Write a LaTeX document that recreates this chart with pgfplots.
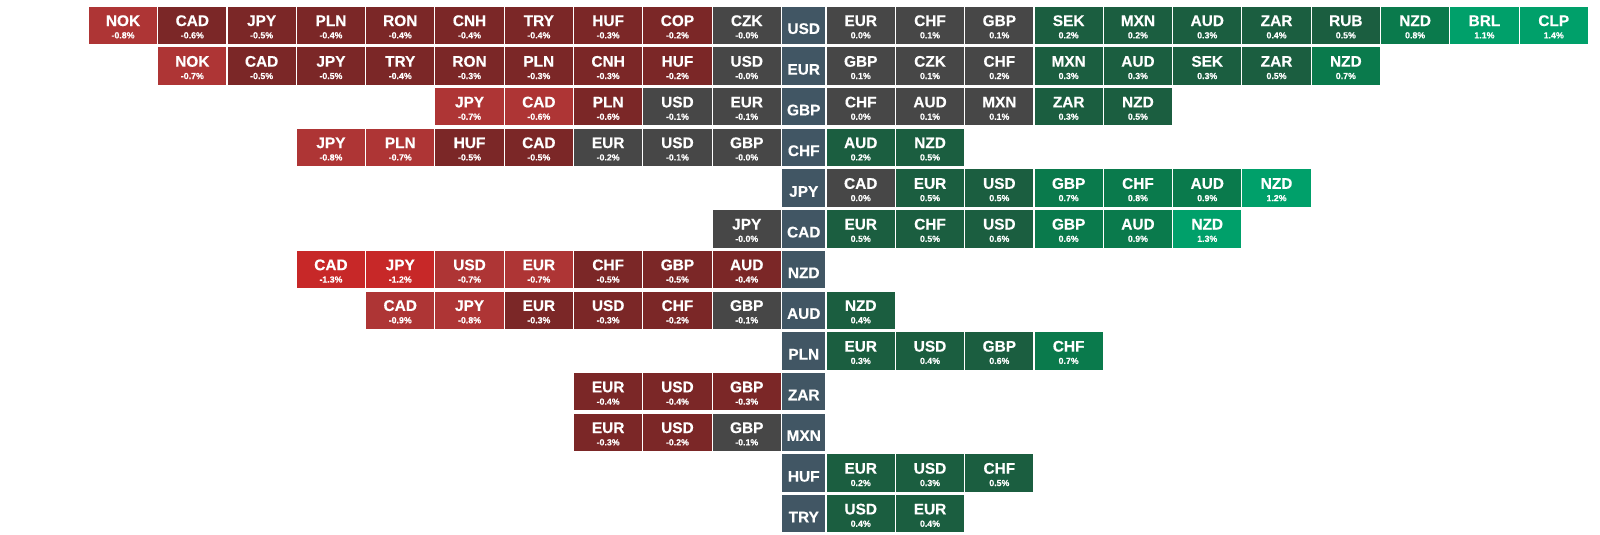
\documentclass[border=0pt]{standalone}
\usepackage{fontspec}
\setmainfont[FakeBold=0.35]{Liberation Sans}
\usepackage{pgfplots}
\usepackage{pgfplotstable}
\pgfplotsset{compat=1.18}

% heat map palette
\definecolor{redD}{HTML}{7B2727}
\definecolor{redM}{HTML}{AE3535}
\definecolor{redB}{HTML}{C72828}
\definecolor{grey}{HTML}{474747}
\definecolor{grnD}{HTML}{1B5E40}
\definecolor{grnM}{HTML}{0A7A4C}
\definecolor{grnB}{HTML}{00A06A}
\definecolor{hub}{HTML}{415664}

% cell shapes: square, rounded left end, rounded right end
\pgfdeclareplotmark{cellN}{%
  \pgfpathrectanglecorners{\pgfpoint{-17.07pt}{-9.33pt}}{\pgfpoint{17.07pt}{9.33pt}}%
  \pgfusepathqfill}
\pgfdeclareplotmark{cellL}{%
  \pgfsetcornersarced{\pgfpoint{1.6pt}{1.6pt}}%
  \pgfpathrectanglecorners{\pgfpoint{-17.07pt}{-9.33pt}}{\pgfpoint{17.07pt}{9.33pt}}%
  \pgfusepathqfill
  \pgfsetcornersarced{\pgfpointorigin}%
  \pgfpathrectanglecorners{\pgfpoint{0pt}{-9.33pt}}{\pgfpoint{17.07pt}{9.33pt}}%
  \pgfusepathqfill}
\pgfdeclareplotmark{cellR}{%
  \pgfsetcornersarced{\pgfpoint{1.6pt}{1.6pt}}%
  \pgfpathrectanglecorners{\pgfpoint{-17.07pt}{-9.33pt}}{\pgfpoint{17.07pt}{9.33pt}}%
  \pgfusepathqfill
  \pgfsetcornersarced{\pgfpointorigin}%
  \pgfpathrectanglecorners{\pgfpoint{-17.07pt}{-9.33pt}}{\pgfpoint{0pt}{9.33pt}}%
  \pgfusepathqfill}
\pgfdeclareplotmark{hubcell}{%
  \pgfpathrectanglecorners{\pgfpoint{-10.75pt}{-9.33pt}}{\pgfpoint{10.75pt}{9.33pt}}%
  \pgfusepathqfill}
\pgfdeclareplotmark{blank}{}

% row = base currency (see \hubs), col < 0 weaker, col > 0 stronger
% cls = colour + end (N none, L left end, R right end)
\pgfplotstableread{
row col name val cls
0 -10 NOK -0.8 redML
0 -9 CAD -0.6 redDN
0 -8 JPY -0.5 redDN
0 -7 PLN -0.4 redDN
0 -6 RON -0.4 redDN
0 -5 CNH -0.4 redDN
0 -4 TRY -0.4 redDN
0 -3 HUF -0.3 redDN
0 -2 COP -0.2 redDN
0 -1 CZK -0.0 greyN
0 1 EUR 0.0 greyN
0 2 CHF 0.1 greyN
0 3 GBP 0.1 greyN
0 4 SEK 0.2 grnDN
0 5 MXN 0.2 grnDN
0 6 AUD 0.3 grnDN
0 7 ZAR 0.4 grnDN
0 8 RUB 0.5 grnDN
0 9 NZD 0.8 grnMN
0 10 BRL 1.1 grnBN
0 11 CLP 1.4 grnBR
1 -9 NOK -0.7 redML
1 -8 CAD -0.5 redDN
1 -7 JPY -0.5 redDN
1 -6 TRY -0.4 redDN
1 -5 RON -0.3 redDN
1 -4 PLN -0.3 redDN
1 -3 CNH -0.3 redDN
1 -2 HUF -0.2 redDN
1 -1 USD -0.0 greyN
1 1 GBP 0.1 greyN
1 2 CZK 0.1 greyN
1 3 CHF 0.2 greyN
1 4 MXN 0.3 grnDN
1 5 AUD 0.3 grnDN
1 6 SEK 0.3 grnDN
1 7 ZAR 0.5 grnDN
1 8 NZD 0.7 grnMR
2 -5 JPY -0.7 redML
2 -4 CAD -0.6 redMN
2 -3 PLN -0.6 redDN
2 -2 USD -0.1 greyN
2 -1 EUR -0.1 greyN
2 1 CHF 0.0 greyN
2 2 AUD 0.1 greyN
2 3 MXN 0.1 greyN
2 4 ZAR 0.3 grnDN
2 5 NZD 0.5 grnDR
3 -7 JPY -0.8 redML
3 -6 PLN -0.7 redMN
3 -5 HUF -0.5 redDN
3 -4 CAD -0.5 redDN
3 -3 EUR -0.2 greyN
3 -2 USD -0.1 greyN
3 -1 GBP -0.0 greyN
3 1 AUD 0.2 grnDN
3 2 NZD 0.5 grnDR
4 1 CAD 0.0 greyN
4 2 EUR 0.5 grnDN
4 3 USD 0.5 grnDN
4 4 GBP 0.7 grnMN
4 5 CHF 0.8 grnMN
4 6 AUD 0.9 grnMN
4 7 NZD 1.2 grnBR
5 -1 JPY -0.0 greyL
5 1 EUR 0.5 grnDN
5 2 CHF 0.5 grnDN
5 3 USD 0.6 grnDN
5 4 GBP 0.6 grnMN
5 5 AUD 0.9 grnMN
5 6 NZD 1.3 grnBR
6 -7 CAD -1.3 redBL
6 -6 JPY -1.2 redBN
6 -5 USD -0.7 redMN
6 -4 EUR -0.7 redMN
6 -3 CHF -0.5 redDN
6 -2 GBP -0.5 redDN
6 -1 AUD -0.4 redDN
7 -6 CAD -0.9 redML
7 -5 JPY -0.8 redMN
7 -4 EUR -0.3 redDN
7 -3 USD -0.3 redDN
7 -2 CHF -0.2 redDN
7 -1 GBP -0.1 greyN
7 1 NZD 0.4 grnDR
8 1 EUR 0.3 grnDN
8 2 USD 0.4 grnDN
8 3 GBP 0.6 grnDN
8 4 CHF 0.7 grnMR
9 -3 EUR -0.4 redDL
9 -2 USD -0.4 redDN
9 -1 GBP -0.3 redDN
10 -3 EUR -0.3 redDL
10 -2 USD -0.2 redDN
10 -1 GBP -0.1 greyN
11 1 EUR 0.2 grnDN
11 2 USD 0.3 grnDN
11 3 CHF 0.5 grnDR
12 1 USD 0.4 grnDN
12 2 EUR 0.4 grnDR
}\cells

\pgfplotstableread{
row col name
0 0 USD
1 0 EUR
2 0 GBP
3 0 CHF
4 0 JPY
5 0 CAD
6 0 NZD
7 0 AUD
8 0 PLN
9 0 ZAR
10 0 MXN
11 0 HUF
12 0 TRY
}\hubs

\begin{document}
\begin{tikzpicture}
\begin{axis}[
    x=34.65pt, y=20.35pt,
    y dir=reverse,
    % the base column is narrower than a cell: pull both sides in
    x coord trafo/.code={\pgfmathparse{#1-0.1775*(#1>0)+0.1775*(#1<0)}},
    xmin=-11.7755, xmax=11.6675,
    ymin=-0.623, ymax=12.522,
    hide axis,
    clip=false,
]
% cells
\addplot[scatter, only marks, mark=cellN, draw=none,
    point meta=explicit symbolic,
    scatter/classes={
        redBL={mark=cellL,fill=redB}, redBN={mark=cellN,fill=redB},
        redML={mark=cellL,fill=redM}, redMN={mark=cellN,fill=redM},
        redDL={mark=cellL,fill=redD}, redDN={mark=cellN,fill=redD},
        greyL={mark=cellL,fill=grey}, greyN={mark=cellN,fill=grey},
        grnDN={mark=cellN,fill=grnD}, grnDR={mark=cellR,fill=grnD},
        grnMN={mark=cellN,fill=grnM}, grnMR={mark=cellR,fill=grnM},
        grnBN={mark=cellN,fill=grnB}, grnBR={mark=cellR,fill=grnB}},
] table[x=col, y=row, meta=cls] {\cells};

% currency names
\addplot[only marks, mark=blank,
    point meta=explicit symbolic,
    nodes near coords,
    nodes near coords style={text=white, anchor=base, yshift=-0.33pt,
        inner sep=0pt, font=\fontsize{7.7}{8}\selectfont\bfseries},
] table[x=col, y=row, meta=name] {\cells};

% percent changes
\addplot[only marks, mark=blank,
    point meta=explicit symbolic,
    nodes near coords={\pgfplotspointmeta\%},
    nodes near coords style={text=white, anchor=base, yshift=-6.5pt,
        inner sep=0pt, font=\fontsize{4.4}{5}\selectfont\bfseries},
] table[x=col, y=row, meta=val] {\cells};

% base currency column
\addplot[only marks, mark=hubcell, fill=hub, draw=none,
    point meta=explicit symbolic,
    nodes near coords,
    nodes near coords style={text=white, anchor=base, yshift=-4.3pt,
        inner sep=0pt, font=\fontsize{7.7}{8}\selectfont\bfseries},
] table[x=col, y=row, meta=name] {\hubs};

\path (rel axis cs:0,0) rectangle (rel axis cs:1,1);
\end{axis}
\end{tikzpicture}
\end{document}
